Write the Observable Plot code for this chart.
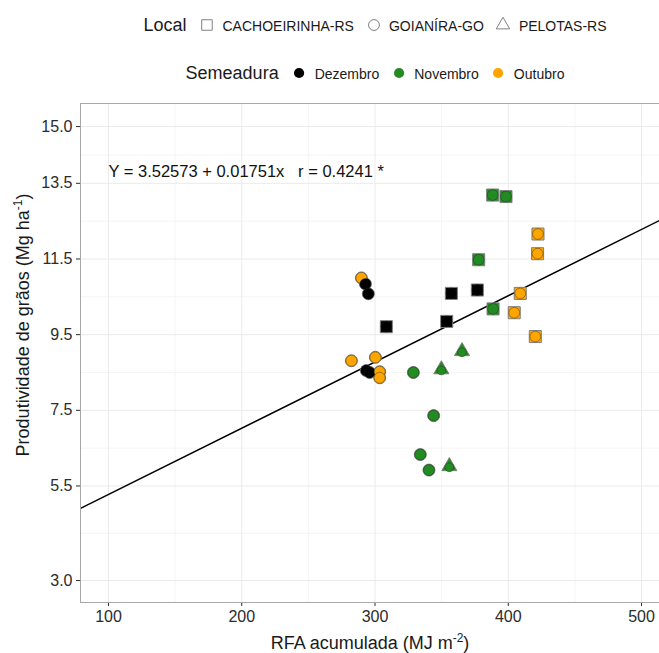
<!DOCTYPE html>
<html><head><meta charset="utf-8">
<script src="https://cdn.jsdelivr.net/npm/d3@7"></script>
<script src="https://cdn.jsdelivr.net/npm/@observablehq/plot@0.6"></script>
<style>
body{margin:0;background:#fff;font-family:"Liberation Sans",Arial,sans-serif;}
#wrap{position:relative;width:659px;height:653px;overflow:hidden;background:#fff;}
.legrow{position:absolute;left:375px;transform:translate(-50%,-50%);display:flex;align-items:center;white-space:nowrap;color:#1a1a1a;}
.legtitle{font-size:18px;margin-right:14px;}
.sw{margin-right:9px;display:block;overflow:visible}
.item{font-size:14px;margin-right:13px}
.item:last-child{margin-right:0}
#plot{position:absolute;left:0;top:95px}
</style></head><body>
<div id="wrap">
  <div id="leg1" class="legrow" style="top:25px"></div>
  <div id="leg2" class="legrow" style="top:73px"></div>
  <div id="plot"></div>
</div>
<script>
// ---- data ----
const localNames = ["CACHOEIRINHA-RS", "GOIANÍRA-GO", "PELOTAS-RS"];
const localSymbols = ["square", "circle", "triangle"];
const semeaduraNames = ["Dezembro", "Novembro", "Outubro"];
const semeaduraColors = ["#000000", "#228B22", "#FFA500"];

const pointLocal = [
  "CACHOEIRINHA-RS","CACHOEIRINHA-RS","CACHOEIRINHA-RS","CACHOEIRINHA-RS",
  "CACHOEIRINHA-RS","CACHOEIRINHA-RS","CACHOEIRINHA-RS","CACHOEIRINHA-RS","CACHOEIRINHA-RS",
  "CACHOEIRINHA-RS","CACHOEIRINHA-RS","CACHOEIRINHA-RS","CACHOEIRINHA-RS",
  "GOIANÍRA-GO","GOIANÍRA-GO","GOIANÍRA-GO","GOIANÍRA-GO","GOIANÍRA-GO","GOIANÍRA-GO",
  "GOIANÍRA-GO","GOIANÍRA-GO","GOIANÍRA-GO","GOIANÍRA-GO","GOIANÍRA-GO","GOIANÍRA-GO","GOIANÍRA-GO",
  "PELOTAS-RS","PELOTAS-RS","PELOTAS-RS"
];
const pointSemeadura = [
  "Novembro","Novembro","Novembro","Novembro",
  "Outubro","Outubro","Outubro","Outubro","Outubro",
  "Dezembro","Dezembro","Dezembro","Dezembro",
  "Outubro","Dezembro","Dezembro","Outubro","Outubro","Dezembro",
  "Dezembro","Outubro","Outubro","Novembro","Novembro","Novembro","Novembro",
  "Novembro","Novembro","Novembro"
];
const rfa = [
  388.3, 398.3, 377.8, 388.6,
  422.3, 422.0, 409.0, 404.5, 420.3,
  357.3, 376.8, 308.5, 353.8,
  289.8, 292.8, 295.0, 282.3, 300.3, 293.5,
  296.0, 303.5, 303.5, 328.8, 344.0, 334.0, 340.5,
  365.3, 349.8, 355.8
];
const produtividade = [
  13.19, 13.15, 11.48, 10.18,
  12.16, 11.64, 10.59, 10.08, 9.45,
  10.59, 10.68, 9.71, 9.85,
  11.00, 10.84, 10.58, 8.81, 8.90, 8.55,
  8.50, 8.52, 8.36, 8.50, 7.36, 6.33, 5.92,
  9.06, 8.58, 6.02
];
const xTicks = [100, 200, 300, 400, 500];
const yTicks = [3.0, 5.5, 7.5, 9.5, 11.5, 13.5, 15.0];
const intercept = 3.52573;
const slope = 0.01751;
const rValue = 0.4241;
const equationLabel = "Y = 3.52573 + 0.01751x   r = 0.4241 *";

// ---- build ----
const points = rfa.map((x, i) => ({rfa: x, prod: produtividade[i], local: pointLocal[i], sem: pointSemeadura[i]}));
const xDomain = [79, 513.5];
const yDomain = [2.42, 15.61];
const minorX = d3.pairs(xTicks).map(([a, b]) => (a + b) / 2);
const minorY = d3.pairs(yTicks).map(([a, b]) => (a + b) / 2);
const regLine = xDomain.map(x => ({x, y: intercept + slope * x}));

const shapeR = {"square": 6.8, "circle": 6, "triangle": 5.6};
const dotR = {"square": 5.4, "circle": 5.5, "triangle": 4.4};

const shapeMarks = localNames.map((name, i) =>
  Plot.dot(points.filter(d => d.local === name), {
    x: "rfa", y: "prod", symbol: localSymbols[i], r: shapeR[localSymbols[i]],
    fill: "sem", stroke: "#808080", strokeWidth: 1
  }));
const dotMarks = localNames.map((name, i) =>
  Plot.dot(points.filter(d => d.local === name), {
    x: "rfa", y: "prod", symbol: "circle", r: dotR[localSymbols[i]],
    dy: localSymbols[i] === "triangle" ? 1 : 0,
    fill: "sem", stroke: "#222", strokeOpacity: 0.6, strokeWidth: 0.7
  }));

const plot = Plot.plot({
  width: 659, height: 558,
  marginTop: 8, marginBottom: 51, marginLeft: 80, marginRight: 0,
  style: {fontFamily: "'Liberation Sans', Arial, sans-serif", background: "white", overflow: "visible"},
  x: {domain: xDomain},
  y: {domain: yDomain},
  color: {domain: semeaduraNames, range: semeaduraColors},
  marks: [
    Plot.gridX(minorX, {stroke: "#f5f5f5", strokeOpacity: 1}),
    Plot.gridY(minorY, {stroke: "#f5f5f5", strokeOpacity: 1}),
    Plot.gridX(xTicks, {stroke: "#ebebeb", strokeOpacity: 1}),
    Plot.gridY(yTicks, {stroke: "#ebebeb", strokeOpacity: 1}),
    Plot.axisX(xTicks, {tickSize: 4, tickPadding: 4, fontSize: 16, label: null, color: "#2b2b2b", tickFormat: d3.format("d")}),
    Plot.axisY(yTicks, {tickSize: 4, tickPadding: 4, fontSize: 16, label: null, color: "#2b2b2b", tickFormat: d3.format(".1f")}),
    Plot.line(regLine, {x: "x", y: "y", stroke: "#000", strokeWidth: 1.5, clip: true}),
    ...shapeMarks,
    ...dotMarks,
    Plot.text([equationLabel], {x: 100, y: 13.8, text: d => d, textAnchor: "start", fontSize: 16.5, fill: "#111"}),
    Plot.frame({stroke: "#a8a8a8"})
  ]
});
document.getElementById("plot").appendChild(plot);

// axis titles with superscripts
const svg = d3.select(plot);
const yt = svg.append("text")
  .attr("transform", "translate(29,230) rotate(-90)")
  .attr("text-anchor", "middle").attr("font-size", 18).attr("fill", "#1a1a1a")
  .style("font-family", "'Liberation Sans', Arial, sans-serif");
yt.append("tspan").text("Produtividade de grãos (Mg ha");
yt.append("tspan").attr("dy", -7).attr("font-size", 12).text("-1");
yt.append("tspan").attr("dy", 7).text(")");

const xt = svg.append("text")
  .attr("transform", "translate(370,554)")
  .attr("text-anchor", "middle").attr("font-size", 18).attr("fill", "#1a1a1a")
  .style("font-family", "'Liberation Sans', Arial, sans-serif");
xt.append("tspan").text("RFA acumulada (MJ m");
xt.append("tspan").attr("dy", -7).attr("font-size", 12).text("-2");
xt.append("tspan").attr("dy", 7).text(")");

// ---- legends ----
const d3Sym = {square: d3.symbolSquare, circle: d3.symbolCircle, triangle: d3.symbolTriangle};
function swatch(type, area, fill, stroke) {
  const s = d3.create("svg").attr("class", "sw").attr("width", 13).attr("height", 13).attr("viewBox", "-6.5 -6.5 13 13");
  s.append("path").attr("d", d3.symbol(d3Sym[type], area)())
    .attr("fill", fill).attr("stroke", stroke).attr("stroke-width", stroke === "none" ? 0 : 1);
  return s.node();
}
const leg1 = document.getElementById("leg1");
const t1 = document.createElement("span"); t1.className = "legtitle"; t1.textContent = "Local"; leg1.appendChild(t1);
const symAreas = {square: 110, circle: 92, triangle: 78};
localNames.forEach((n, i) => {
  leg1.appendChild(swatch(localSymbols[i], symAreas[localSymbols[i]], "none", "#808080"));
  const sp = document.createElement("span"); sp.className = "item"; sp.textContent = n; leg1.appendChild(sp);
});
const leg2 = document.getElementById("leg2");
const t2 = document.createElement("span"); t2.className = "legtitle"; t2.textContent = "Semeadura"; leg2.appendChild(t2);
semeaduraNames.forEach((n, i) => {
  leg2.appendChild(swatch("circle", 82, semeaduraColors[i], "none"));
  const sp = document.createElement("span"); sp.className = "item"; sp.textContent = n; leg2.appendChild(sp);
});
</script>
</body></html>
